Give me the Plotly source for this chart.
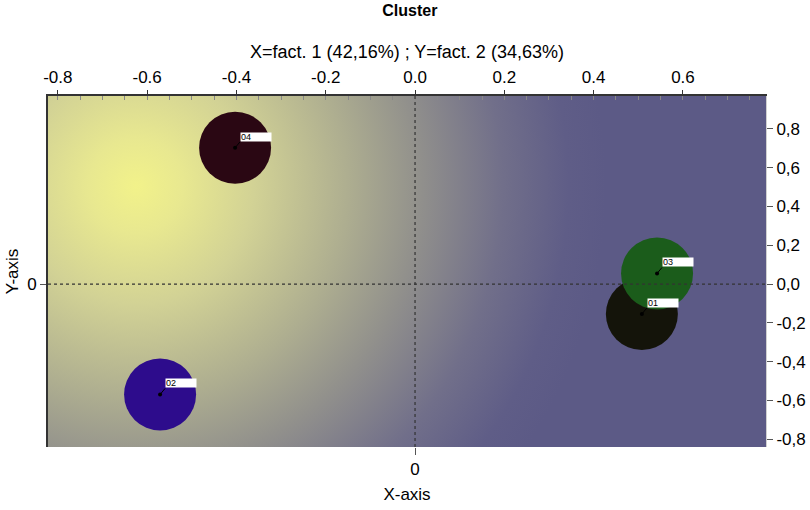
import base64

import plotly.graph_objects as go

# cluster centroids on the factorial plane
labels = ["01", "02", "03", "04"]
fact1 = [0.508, -0.571, 0.542, -0.403]
fact2 = [-0.154, -0.569, 0.055, 0.703]

x_ticks = [-0.8, -0.6, -0.4, -0.2, 0.0, 0.2, 0.4, 0.6]
x_ticktext = ["-0.8", "-0.6", "-0.4", "-0.2", "0.0", "0.2", "0.4", "0.6"]
y_ticks = [0.8, 0.6, 0.4, 0.2, 0.0, -0.2, -0.4, -0.6, -0.8]
y_ticktext = ["0,8", "0,6", "0,4", "0,2", "0,0", "-0,2", "-0,4", "-0,6", "-0,8"]

colors = ["#14140a", "#2d0c8c", "#1b5c1b", "#2a0713"]
FONT = "Liberation Sans, Arial, sans-serif"

# radial background gradient as an inline svg
svg = """<svg xmlns='http://www.w3.org/2000/svg' width='718' height='351' viewBox='0 0 718 351' preserveAspectRatio='none'>
<defs><radialGradient id='g' gradientUnits='userSpaceOnUse' cx='88' cy='90' r='470'>
<stop offset='0' stop-color='#f2f28a'/>
<stop offset='0.1' stop-color='#e8e890'/>
<stop offset='0.25' stop-color='#d2d295'/>
<stop offset='0.45' stop-color='#aeae90'/>
<stop offset='0.6' stop-color='#92918c'/>
<stop offset='0.78' stop-color='#716f8a'/>
<stop offset='0.92' stop-color='#5f5d87'/>
<stop offset='1' stop-color='#5c5a86'/>
</radialGradient></defs>
<rect width='718' height='351' fill='url(#g)'/></svg>"""
bg_src = "data:image/svg+xml;base64," + base64.b64encode(svg.encode()).decode()

fig = go.Figure()

fig.add_trace(go.Scatter(
    x=fact1, y=fact2, mode="markers",
    marker=dict(size=72, color=colors, line=dict(width=0)),
    hoverinfo="text", text=labels, showlegend=False,
))
fig.add_trace(go.Scatter(
    x=fact1, y=fact2, mode="markers",
    marker=dict(size=4, color="black"),
    hoverinfo="skip", showlegend=False,
))

for lab, xv, yv in zip(labels, fact1, fact2):
    fig.add_annotation(
        x=xv, y=yv, xref="x", yref="y",
        text=lab, showarrow=True, arrowhead=0, arrowwidth=1, arrowcolor="black",
        ax=5, ay=-6, xanchor="left", yanchor="bottom",
        bgcolor="white", width=30, height=8, align="left", borderpad=0,
        font=dict(family=FONT, size=9, color="black"), standoff=0,
    )

# dashed zero lines
fig.add_shape(type="line", xref="x", yref="paper", x0=0, x1=0, y0=0, y1=1,
              line=dict(color="#333333", width=1.2, dash="dot"))
fig.add_shape(type="line", xref="paper", yref="y", x0=0, x1=1, y0=0, y1=0,
              line=dict(color="#333333", width=1.2, dash="dot"))

fig.add_layout_image(dict(
    source=bg_src, xref="paper", yref="paper", x=0, y=1, sizex=1, sizey=1,
    sizing="stretch", layer="below", xanchor="left", yanchor="top",
))

fig.update_layout(
    width=810, height=510,
    margin=dict(l=48, r=44, t=96, b=63, autoexpand=False),
    paper_bgcolor="white", plot_bgcolor="#5c5a86",
    font=dict(family=FONT, size=17, color="black"),
    title=dict(text="<b>Cluster</b>", x=0.506, xanchor="center", y=0.99, yanchor="top",
               font=dict(size=16)),
    xaxis=dict(
        side="top", range=[-0.822, 0.786], tickvals=x_ticks, ticktext=x_ticktext,
        showgrid=False, zeroline=False, showline=True, linecolor="#333333", linewidth=2,
        ticks="outside", ticklen=4, tickcolor="#333333", automargin=False,
        minor=dict(dtick=0.05, ticks="inside", ticklen=4, tickcolor="#888888", showgrid=False),
        title=dict(text="X=fact. 1 (42,16%) ; Y=fact. 2 (34,63%)", standoff=5, font=dict(size=18)),
        fixedrange=True,
    ),
    xaxis2=dict(
        overlaying="x", side="bottom", anchor="y", range=[-0.822, 0.786],
        tickvals=[0], ticktext=["0"], showgrid=False, zeroline=False, showline=False,
        ticks="outside", ticklen=7, tickcolor="#555555", automargin=False,
        title=dict(text="X-axis", standoff=9, font=dict(size=17)),
        fixedrange=True,
    ),
    yaxis=dict(
        side="right", range=[-0.84, 0.97], tickvals=y_ticks, ticktext=y_ticktext,
        showgrid=False, zeroline=False, showline=True, linecolor="#d0d0d0", linewidth=1,
        ticks="outside", ticklen=6, tickcolor="#555555", automargin=False,
        fixedrange=True,
    ),
    yaxis2=dict(
        overlaying="y", side="left", anchor="x", range=[-0.84, 0.97],
        tickvals=[0], ticktext=["0"], showgrid=False, zeroline=False,
        showline=True, linecolor="#333333", linewidth=2,
        ticks="outside", ticklen=6, tickcolor="#555555", automargin=False,
        title=dict(text="Y-axis", standoff=4, font=dict(size=17)),
        fixedrange=True,
    ),
)

# invisible trace so the secondary axes render
fig.add_trace(go.Scatter(x=[None], y=[None], xaxis="x2", yaxis="y2",
                         showlegend=False, hoverinfo="skip"))

fig.write_html("out.html", config={"displayModeBar": False},
               post_script="document.body.style.margin='0';")
